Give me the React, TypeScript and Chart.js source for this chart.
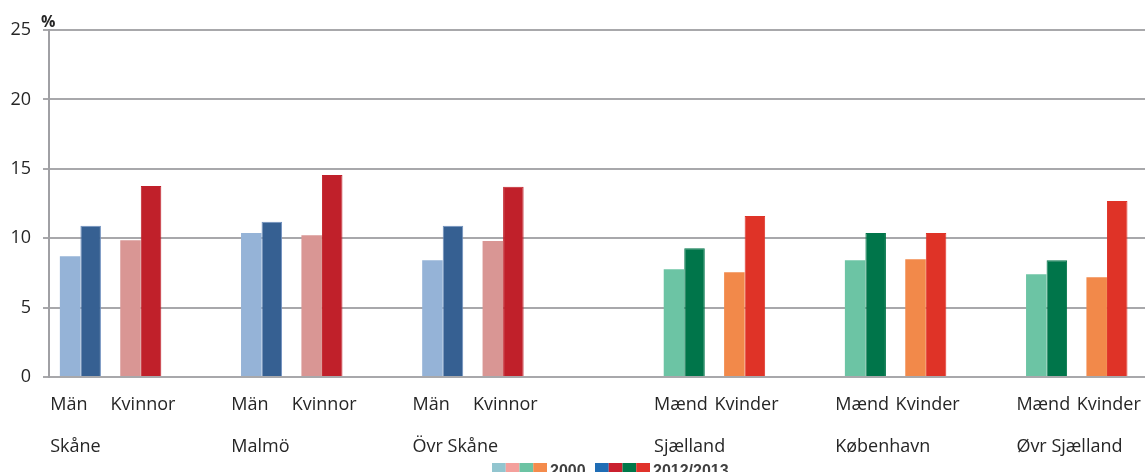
import React, { useEffect, useRef } from "react";
import { Chart, registerables } from "chart.js";

Chart.register(...registerables);

// ---- Data ----
const categories = [
  "Män", "Kvinnor", "",
  "Män", "Kvinnor", "",
  "Män", "Kvinnor", "", "",
  "Mænd", "Kvinder", "",
  "Mænd", "Kvinder", "",
  "Mænd", "Kvinder",
];
const groupLabels = [
  "Skåne", "", "",
  "Malmö", "", "",
  "Övr Skåne", "", "", "",
  "Sjælland", "", "",
  "København", "", "",
  "Øvr Sjælland", "",
];
const values2000 = [
  8.7, 9.86, null,
  10.37, 10.22, null,
  8.42, 9.79, null, null,
  7.77, 7.55, null,
  8.42, 8.49, null,
  7.4, 7.19,
];
const values2012 = [
  10.9, 13.76, null,
  11.19, 14.56, null,
  10.9, 13.71, null, null,
  9.28, 11.6, null,
  10.37, 10.37, null,
  8.42, 12.68,
];
const seriesNames = ["2000", "2012/2013"];
const yTickValues = [0, 5, 10, 15, 20, 25];
const unitLabel = "%";

// ---- Styles ----
const SE_M_2000 = "#95b3d7";
const SE_M_2012 = "#366092";
const SE_K_2000 = "#d99694";
const SE_K_2012 = "#c0202a";
const DK_M_2000 = "#6cc4a4";
const DK_M_2012 = "#00754a";
const DK_K_2000 = "#f2894a";
const DK_K_2012 = "#df3327";
const colors2000 = [
  SE_M_2000, SE_K_2000, null, SE_M_2000, SE_K_2000, null, SE_M_2000, SE_K_2000, null, null,
  DK_M_2000, DK_K_2000, null, DK_M_2000, DK_K_2000, null, DK_M_2000, DK_K_2000,
];
const colors2012 = [
  SE_M_2012, SE_K_2012, null, SE_M_2012, SE_K_2012, null, SE_M_2012, SE_K_2012, null, null,
  DK_M_2012, DK_K_2012, null, DK_M_2012, DK_K_2012, null, DK_M_2012, DK_K_2012,
];
const BLUE_EDGE = "#7090bf";
const borders2012 = colors2012.map((c) => (c === SE_M_2012 ? BLUE_EDGE : c));
const legendSwatches2000 = ["#92c5cf", "#f4a09c", "#6cc3a3", "#f48b4c"];
const legendSwatches2012 = ["#1f6db5", "#c9202f", "#00784a", "#e0322a"];

const TEXT = "#262626";
const FONT = '"Open Sans", "DejaVu Sans", sans-serif';

const labelsPlugin = {
  id: "customLabels",
  afterDraw(chart: any) {
    const ctx = chart.ctx as CanvasRenderingContext2D;
    const xs = chart.scales.x;
    ctx.save();
    ctx.fillStyle = TEXT;
    ctx.textAlign = "left";
    ctx.textBaseline = "alphabetic";
    ctx.font = `18px ${FONT}`;
    categories.forEach((c, i) => {
      if (!c) return;
      ctx.fillText(c, xs.getPixelForValue(i - 0.5), 410);
    });
    groupLabels.forEach((g, i) => {
      if (!g) return;
      ctx.fillText(g, xs.getPixelForValue(i - 0.5), 452);
    });
    // unit label
    ctx.font = `bold 16px ${FONT}`;
    ctx.fillText(unitLabel, 41, 27);

    // legend
    const drawGroup = (x0: number, sw: string[], label: string) => {
      const w = 13.75;
      sw.forEach((c, k) => {
        ctx.fillStyle = c;
        ctx.fillRect(x0 + k * w, 463, w, 10);
      });
      ctx.fillStyle = "#404040";
      ctx.font = 'bold 16px "Liberation Sans", Arial, sans-serif';
      ctx.fillText(label, x0 + sw.length * w + 3, 475.5);
    };
    drawGroup(492, legendSwatches2000, seriesNames[0]);
    drawGroup(595, legendSwatches2012, seriesNames[1]);
    ctx.restore();
  },
};

export default function App() {
  const ref = useRef<HTMLCanvasElement | null>(null);

  useEffect(() => {
    if (!ref.current) return;
    const chart = new Chart(ref.current, {
      type: "bar",
      data: {
        datasets: [
          {
            label: seriesNames[0],
            data: values2000.map((v, i) => ({ x: i, y: v })) as any,
            backgroundColor: colors2000 as any,
            borderWidth: 0,
            categoryPercentage: 0.68,
            barPercentage: 1,
          },
          {
            label: seriesNames[1],
            data: values2012.map((v, i) => ({ x: i, y: v })) as any,
            backgroundColor: colors2012 as any,
            borderColor: borders2012 as any,
            borderWidth: 1,
            categoryPercentage: 0.68,
            barPercentage: 1,
          },
        ],
      },
      options: {
        animation: false,
        responsive: false,
        devicePixelRatio: 1,
        layout: { padding: { top: 30, bottom: 95, left: 0, right: 0 } },
        plugins: {
          legend: { display: false },
          tooltip: { enabled: false },
        },
        scales: {
          x: {
            type: "linear",
            display: false,
            offset: false,
            bounds: "ticks",
            min: -0.52,
            max: 17.63,
            grace: 0,
          },
          y: {
            min: 0,
            max: 25,
            afterFit: (s: any) => {
              s.width = 49;
            },
            afterBuildTicks: (s: any) => {
              s.ticks = yTickValues.map((v) => ({ value: v }));
            },
            ticks: {
              color: TEXT,
              font: { family: FONT, size: 18 },
              padding: 12,
            },
            grid: {
              color: "#a8a8ab",
              lineWidth: 2,
              tickLength: 6,
              drawTicks: true,
            },
            border: { display: true, color: "#a0a0a4", width: 2 },
          },
        },
      },
      plugins: [labelsPlugin],
    });
    return () => chart.destroy();
  }, []);

  return (
    <div style={{ position: "absolute", left: 0, top: 0, width: 1145, height: 472, background: "#fff" }}>
      <canvas ref={ref} width={1145} height={472} style={{ display: "block" }} />
    </div>
  );
}
